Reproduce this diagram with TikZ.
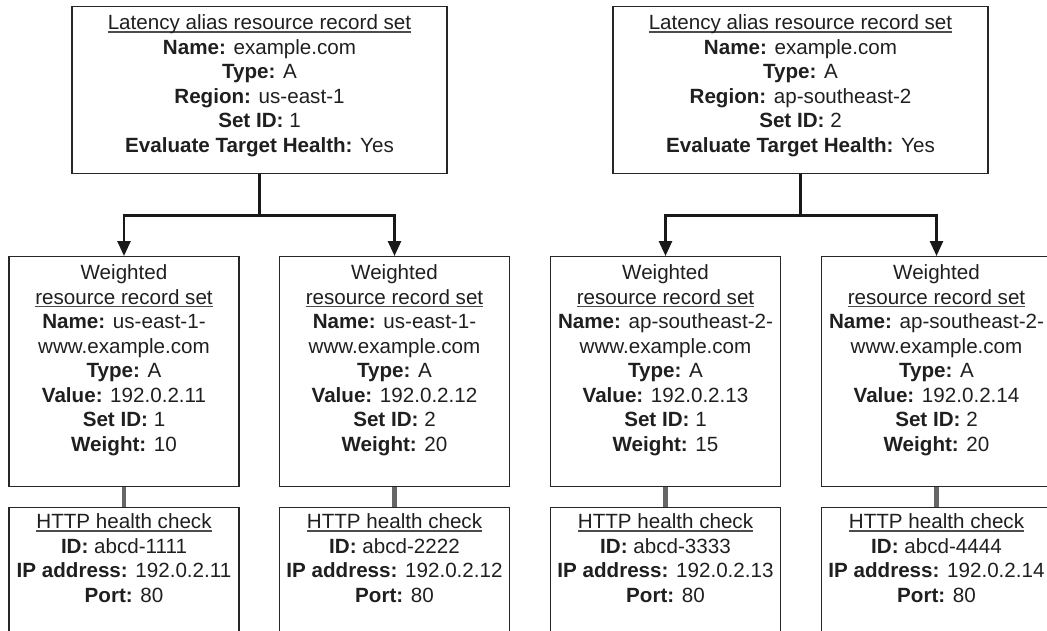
\documentclass[tikz,border=0pt]{standalone}
\usepackage{fontspec}
\setmainfont{Liberation Sans}
\usetikzlibrary{arrows.meta}
\newsavebox\myulbox
\newcommand\myul[1]{\sbox\myulbox{#1}\rlap{\color{black!70}\rule[-2.6pt]{\wd\myulbox}{1.1pt}}\usebox\myulbox}
\begin{document}
\begin{tikzpicture}[x=1pt,y=-1pt,
  box/.style={draw=black!85, line width=1.2pt, rectangle, inner sep=0pt, anchor=north},
  bigbox/.style={box, minimum width=375pt, minimum height=167pt},
  wbox/.style={box, minimum width=230pt, minimum height=230pt},
  hbox/.style={box, minimum width=230pt, minimum height=150pt},
  txt/.style={anchor=north, inner sep=0pt, align=center, text=black!88, font=\fontsize{20.6pt}{24.5pt}\selectfont},
  conn/.style={line width=2.6pt, draw=black!90, -{Triangle[length=15pt,width=13pt]}},
  hc/.style={line width=4.5pt, draw=black!60}
]
\useasboundingbox (0,0) rectangle (1047,630);
\clip (0,0) rectangle (1047,630);

% top boxes
\node[bigbox] (t1) at (259.5,6) {};
\node[bigbox] (t2) at (800.5,6) {};
\node[txt] (t1t) at (259.5,14.8) {\myul{Latency alias resource record set}\\
  \textbf{Name:} example.com\\ \textbf{Type:} A\\ \textbf{Region:} us-east-1\\
  \textbf{Set ID:} 1\\ \textbf{Evaluate Target Health:} Yes};
\node[txt] (t2t) at (800.5,14.8) {\myul{Latency alias resource record set}\\
  \textbf{Name:} example.com\\ \textbf{Type:} A\\ \textbf{Region:} ap-southeast-2\\
  \textbf{Set ID:} 2\\ \textbf{Evaluate Target Health:} Yes};

% weighted boxes
\node[wbox] (w1) at (124,256) {};
\node[wbox] (w2) at (394.5,256) {};
\node[wbox] (w3) at (665.5,256) {};
\node[wbox] (w4) at (936.5,256) {};
\node[txt] (w1t) at (124,264.8) {Weighted\\ \myul{resource record set}\\
  \textbf{Name:} us-east-1-\\ www.example.com\\ \textbf{Type:} A\\
  \textbf{Value:} 192.0.2.11\\ \textbf{Set ID:} 1\\ \textbf{Weight:} 10};
\node[txt] (w2t) at (394.5,264.8) {Weighted\\ \myul{resource record set}\\
  \textbf{Name:} us-east-1-\\ www.example.com\\ \textbf{Type:} A\\
  \textbf{Value:} 192.0.2.12\\ \textbf{Set ID:} 2\\ \textbf{Weight:} 20};
\node[txt] (w3t) at (665.5,264.8) {Weighted\\ \myul{resource record set}\\
  \textbf{Name:} ap-southeast-2-\\ www.example.com\\ \textbf{Type:} A\\
  \textbf{Value:} 192.0.2.13\\ \textbf{Set ID:} 1\\ \textbf{Weight:} 15};
\node[txt] (w4t) at (936.5,264.8) {Weighted\\ \myul{resource record set}\\
  \textbf{Name:} ap-southeast-2-\\ www.example.com\\ \textbf{Type:} A\\
  \textbf{Value:} 192.0.2.14\\ \textbf{Set ID:} 2\\ \textbf{Weight:} 20};

% health check boxes
\node[hbox] (h1) at (124,507) {};
\node[hbox] (h2) at (394.5,507) {};
\node[hbox] (h3) at (665.5,507) {};
\node[hbox] (h4) at (936.5,507) {};
\node[txt] (h1t) at (124,513.8) {\myul{HTTP health check}\\ \textbf{ID:} abcd-1111\\
  \textbf{IP address:} 192.0.2.11\\ \textbf{Port:} 80};
\node[txt] (h2t) at (394.5,513.8) {\myul{HTTP health check}\\ \textbf{ID:} abcd-2222\\
  \textbf{IP address:} 192.0.2.12\\ \textbf{Port:} 80};
\node[txt] (h3t) at (665.5,513.8) {\myul{HTTP health check}\\ \textbf{ID:} abcd-3333\\
  \textbf{IP address:} 192.0.2.13\\ \textbf{Port:} 80};
\node[txt] (h4t) at (936.5,513.8) {\myul{HTTP health check}\\ \textbf{ID:} abcd-4444\\
  \textbf{IP address:} 192.0.2.14\\ \textbf{Port:} 80};

% connectors
\draw[conn] (t1.south) -- ++(0,41) -| (w1.north);
\draw[conn] (t1.south) -- ++(0,41) -| (w2.north);
\draw[conn] (t2.south) -- ++(0,41) -| (w3.north);
\draw[conn] (t2.south) -- ++(0,41) -| (w4.north);

\draw[hc] (w1.south) -- (h1.north);
\draw[hc] (w2.south) -- (h2.north);
\draw[hc] (w3.south) -- (h3.north);
\draw[hc] (w4.south) -- (h4.north);
\end{tikzpicture}
\end{document}
